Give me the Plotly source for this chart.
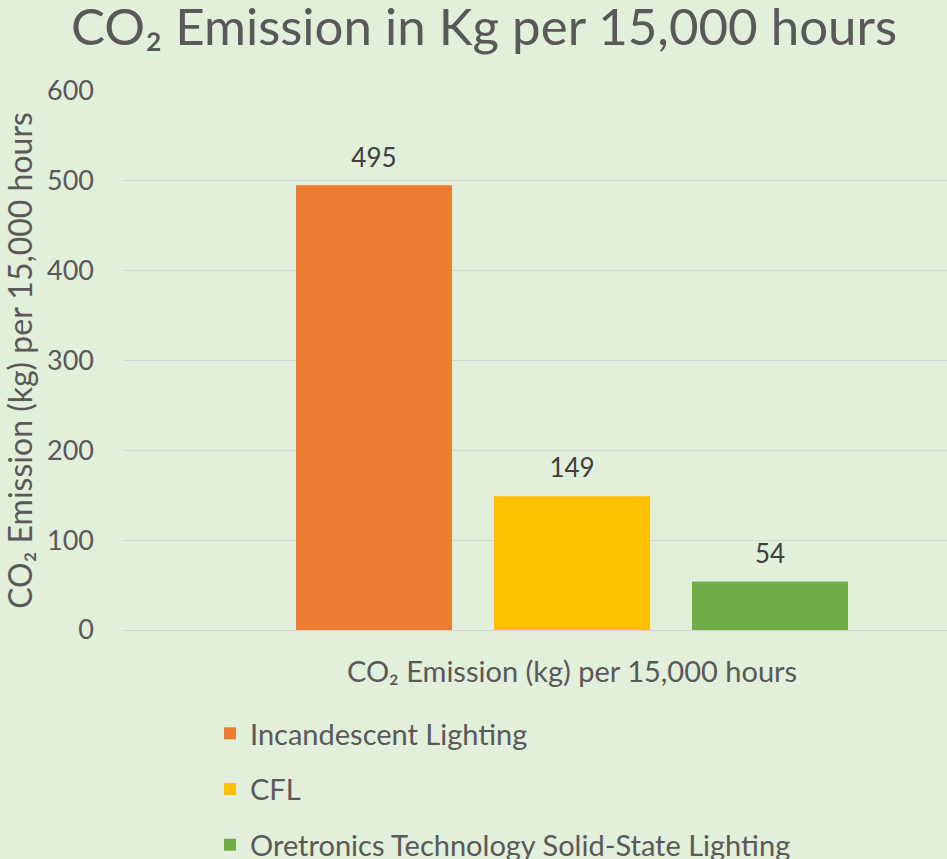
import plotly.graph_objects as go

W, H = 947, 859
category = ["CO₂ Emission (kg) per 15,000 hours"]
series_names = ["Incandescent Lighting", "CFL", "Oretronics Technology Solid-State Lighting"]
series_values = [495, 149, 54]
series_colors = ["#ED7D31", "#FFC000", "#70AD47"]
y_ticks = [0, 100, 200, 300, 400, 500, 600]

FONT = "Lato"
TEXT = "#595959"
BG = "#E2EFDA"

fig = go.Figure()
for i, (name, val, col) in enumerate(zip(series_names, series_values, series_colors)):
    fig.add_trace(go.Bar(
        x=category, y=[val], name=name, marker_color=col, marker_line_width=0,
        legendgroup=f"g{i}", hoverinfo="skip",
    ))
# data labels, aligned with the grouped bars
for i, val in enumerate(series_values):
    fig.add_trace(go.Scatter(
        x=category, y=[val], mode="markers+text", text=[str(val)],
        textposition="top center", marker=dict(size=18, opacity=0),
        textfont=dict(family=FONT, size=26, color="#404040"),
        showlegend=False, cliponaxis=False, hoverinfo="skip",
    ))

L, T, B = 123, 91, 229
PW, PH = W - L, H - T - B
fig.update_layout(
    width=W, height=H,
    paper_bgcolor=BG, plot_bgcolor=BG,
    margin=dict(l=L, r=0, t=T, b=B, autoexpand=False),
    barmode="group", bargap=0.3385, bargroupgap=0.212,
    scattermode="group", scattergap=0.3385,
    font=dict(family=FONT, color=TEXT),
    title=dict(text="CO₂ Emission in Kg per 15,000 hours", x=484 / W, xanchor="center",
               y=1 - 27 / H, yanchor="middle", yref="container",
               font=dict(family=FONT, size=51, color=TEXT)),
    xaxis=dict(type="category", range=[-0.5, 0.4176], showgrid=False,
               tickfont=dict(family=FONT, size=29, color=TEXT), ticks="",
               ticklabelstandoff=16,
               showline=True, linecolor="#D0D0D0", linewidth=1),
    yaxis=dict(range=[0, 600], tickvals=y_ticks, showgrid=True, gridcolor="#D6D6D6", gridwidth=1,
               zeroline=False, tickfont=dict(family=FONT, size=27, color=TEXT), ticks="",
               ticklabelstandoff=28,
               title=dict(text="CO₂ Emission (kg) per 15,000 hours", standoff=8,
                          font=dict(family=FONT, size=32, color=TEXT))),
    showlegend=True,
    legend=dict(orientation="v",
                x=(210 - L) / PW, xanchor="left", y=(H - B - 708) / PH, yanchor="top",
                font=dict(family=FONT, size=29, color=TEXT), tracegroupgap=15,
                bgcolor="rgba(0,0,0,0)", traceorder="grouped"),
)
fig.write_html("out.html", config={"displayModeBar": False},
               post_script="document.body.style.margin='0';")
